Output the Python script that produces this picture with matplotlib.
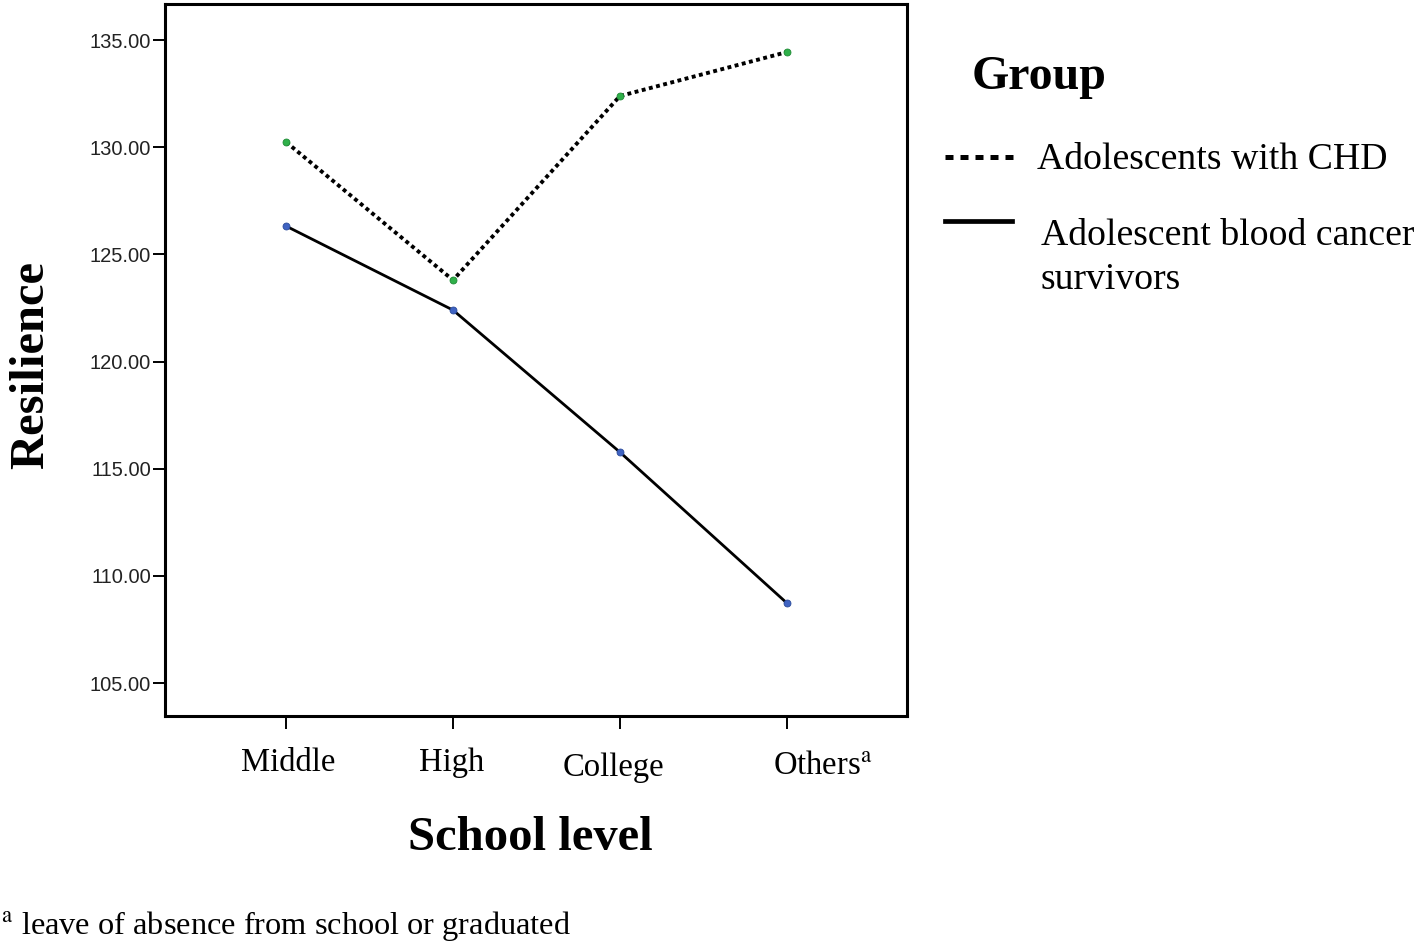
"""Resilience by school level for two adolescent groups (interaction plot)."""

import matplotlib
matplotlib.use("Agg")
import matplotlib.pyplot as plt
from matplotlib.lines import Line2D
from matplotlib.transforms import ScaledTranslation

plt.rcParams["mathtext.fontset"] = "stix"

# data
levels = ["Middle", "High", "College", r"Others$^{\mathrm{a}}$"]
chd = [130.24, 123.80, 132.39, 134.44]
cancer = [126.32, 122.40, 115.77, 108.73]
yticks = [105, 110, 115, 120, 125, 130, 135]

serif = "Liberation Serif"
sans = "Liberation Sans"


def main():
    fig = plt.figure(figsize=(14.18, 9.44), dpi=100)
    ax = fig.add_axes([0.1164, 0.2415, 0.5233, 0.7542])

    x = range(len(levels))
    ax.plot(x, chd, color="black", lw=2.8, linestyle=(0, (1, 0.9)),
            dash_capstyle="butt", zorder=2)
    ax.plot(x, cancer, color="black", lw=2.0, zorder=2)
    ax.plot(x, chd, "o", ms=5, color="#2fb04a", mec="#1f8a35", mew=0.6,
            zorder=3)
    ax.plot(x, cancer, "o", ms=5, color="#3f63c2", mec="#2a4a9a", mew=0.6,
            zorder=3)

    ax.set_xlim(-0.725, 3.72)
    ax.set_ylim(103.46, 136.68)
    ax.set_yticks(yticks)
    ax.set_yticklabels([f"{v:.2f}" for v in yticks], fontfamily=sans,
                       fontsize=14.5, color="#222222")
    ax.set_xticks(list(x))
    ax.set_xticklabels(levels, fontfamily=serif, fontsize=23.5)
    ax.tick_params(axis="y", length=9, width=1.4, pad=1)
    ax.tick_params(axis="x", length=9, width=1.4, pad=14)
    for sp in ax.spines.values():
        sp.set_linewidth(2.2)

    # the reference labels are a little off their ticks
    shifts = [(2, 0), (-1, 0), (-7, -5), (36, -3)]
    for lab, (dx, dy) in zip(ax.get_xticklabels(), shifts):
        off = ScaledTranslation(dx / 100, dy / 100, fig.dpi_scale_trans)
        lab.set_transform(lab.get_transform() + off)

    fig.text(0.022, 0.613, "Resilience", rotation=90, ha="center",
             va="center", fontfamily=serif, fontweight="bold", fontsize=35)
    fig.text(0.3738, 0.1123, "School level", ha="center", va="center",
             fontfamily=serif, fontweight="bold", fontsize=35)

    # legend, drawn by hand to match the layout
    fig.text(0.685, 0.918, "Group", ha="left", va="center",
             fontfamily=serif, fontweight="bold", fontsize=34.5)
    fig.add_artist(Line2D([0.6665, 0.7145], [0.8337, 0.8337],
                          transform=fig.transFigure, color="black", lw=3.6,
                          linestyle=(0, (1.6, 1.4)), dash_capstyle="butt"))
    fig.text(0.731, 0.8305, "Adolescents with CHD", ha="left", va="center",
             fontfamily=serif, fontsize=27.2)
    fig.add_artist(Line2D([0.6665, 0.7140], [0.7659, 0.7659],
                          transform=fig.transFigure, color="black", lw=3.4))
    fig.text(0.734, 0.750, "Adolescent blood cancer", ha="left",
             va="center", fontfamily=serif, fontsize=27.2)
    fig.text(0.734, 0.7034, "survivors", ha="left", va="center",
             fontfamily=serif, fontsize=27.2)

    fig.text(0.001, 0.019,
             r"$^{\mathrm{a}}$ leave of absence from school or graduated",
             ha="left", va="center", fontfamily=serif, fontsize=23.3)

    fig.savefig("out.png", dpi=100)
    plt.close(fig)


if __name__ == "__main__":
    main()
